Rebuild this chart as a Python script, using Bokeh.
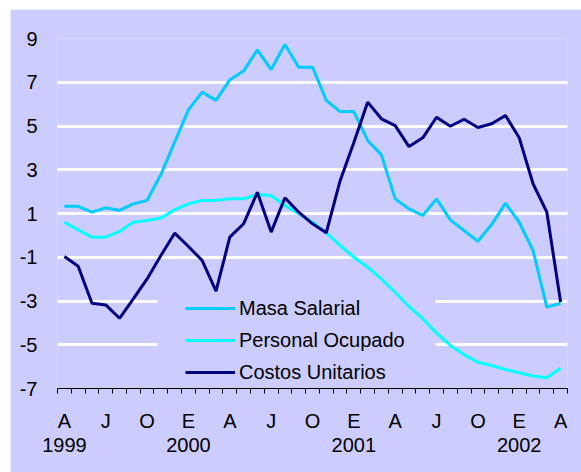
from bokeh.plotting import figure
from bokeh.models import LinearAxis, FixedTicker, Range1d, Legend, LegendItem, BoxAnnotation
from bokeh.embed import file_html
from bokeh.resources import INLINE

# Monthly index: April 1999 (0) ... April 2002 (36)
months = list(range(37))

masa_salarial = [1.33, 1.33, 1.06, 1.26, 1.14, 1.44, 1.6, 2.78, 4.26, 5.74,
                 6.55, 6.17, 7.11, 7.51, 8.48, 7.58, 8.73, 7.69, 7.69, 6.17,
                 5.66, 5.66, 4.34, 3.68, 1.67, 1.21, 0.91, 1.67, 0.71, 0.22,
                 -0.27, 0.5, 1.47, 0.6, -0.69, -3.28, -3.1]
personal_ocupado = [0.6, 0.25, -0.08, -0.08, 0.18, 0.6, 0.68, 0.79, 1.17, 1.44,
                    1.6, 1.6, 1.67, 1.67, 1.87, 1.82, 1.37, 0.99, 0.6, 0.12,
                    -0.46, -1.0, -1.45, -1.99, -2.6, -3.25, -3.81, -4.47, -5.03, -5.45,
                    -5.8, -5.95, -6.13, -6.28, -6.43, -6.51, -6.07]
costos_unitarios = [-0.97, -1.41, -3.1, -3.18, -3.79, -2.9, -1.99, -0.92, 0.1, -0.51,
                    -1.15, -2.55, -0.08, 0.53, 1.97, 0.15, 1.72, 1.06, 0.53, 0.12,
                    2.49, 4.25, 6.09, 5.33, 5.02, 4.06, 4.46, 5.4, 4.99, 5.31,
                    4.93, 5.1, 5.48, 4.46, 2.36, 1.06, -3.05]

quarter_pos = [0, 3, 6, 9, 12, 15, 18, 21, 24, 27, 30, 33, 36]
quarter_labels = ["A", "J", "O", "E", "A", "J", "O", "E", "A", "J", "O", "E", "A"]
year_pos = [0, 9, 21, 33]
year_labels = ["1999", "2000", "2001", "2002"]
y_ticks = [-7, -5, -3, -1, 1, 3, 5, 7, 9]
y_tick_labels = ["-7", "-5", "-3", "-1", "1", "3", "5", "7", "9"]
grid_ticks = [-5, -3, -1, 1, 3, 5, 7, 9]

BG = "#CCCCFF"
FONT = "Liberation Sans"
FS = "20px"

p = figure(width=571, height=463, margin=(9, 0, 0, 10),
           output_backend="svg", toolbar_location=None,
           x_range=Range1d(-0.5, 36.5), y_range=Range1d(-7, 9),
           x_axis_type=None,
           min_border_left=47, min_border_right=14, min_border_top=29, min_border_bottom=84)
p.background_fill_color = BG
p.border_fill_color = BG
p.outline_line_color = None

# y axis
p.yaxis.ticker = FixedTicker(ticks=y_ticks)
p.yaxis.major_label_overrides = {t: l for t, l in zip(y_ticks, y_tick_labels)}
p.yaxis.axis_line_color = None
p.yaxis.major_tick_line_color = None
p.yaxis.minor_tick_line_color = None
p.yaxis.major_label_standoff = 14
p.yaxis.major_label_text_font = FONT
p.yaxis.major_label_text_font_size = FS
p.yaxis.major_label_text_color = "#000000"

p.ygrid.ticker = FixedTicker(ticks=grid_ticks)
p.ygrid.grid_line_color = "#FFFFFF"
p.ygrid.grid_line_width = 3

# x axis: quarter letters at month centres, tick marks at month boundaries
boundaries = [m - 0.5 for m in months] + [months[-1] + 0.5]
ax_m = LinearAxis(ticker=FixedTicker(ticks=quarter_pos, minor_ticks=boundaries),
                  major_label_overrides={q: l for q, l in zip(quarter_pos, quarter_labels)},
                  axis_line_color="#000000", axis_line_width=1,
                  major_tick_line_color=None, major_tick_out=5, major_tick_in=0,
                  minor_tick_line_color="#000000", minor_tick_out=5, minor_tick_in=0,
                  major_label_standoff=16, major_label_text_font=FONT,
                  major_label_text_font_size=FS, major_label_text_color="#000000")
p.add_layout(ax_m, "below")

ax_y = LinearAxis(ticker=FixedTicker(ticks=year_pos),
                  major_label_overrides={q: l for q, l in zip(year_pos, year_labels)},
                  axis_line_color=None, major_tick_line_color=None, minor_tick_line_color=None,
                  major_tick_out=0, major_label_standoff=3, major_label_text_font=FONT,
                  major_label_text_font_size=FS, major_label_text_color="#000000")
p.add_layout(ax_y, "below")

# plain background behind the legend (hides the grid lines there)
legend_bg = BoxAnnotation(left=100, right=378, bottom=0, top=96,
                          left_units="screen", right_units="screen",
                          bottom_units="screen", top_units="screen",
                          fill_color=BG, fill_alpha=1.0, line_color=None, level="underlay")
p.add_layout(legend_bg)

r1 = p.line(months, masa_salarial, line_color="#00CCFF", line_width=3)
r2 = p.line(months, personal_ocupado, line_color="#00FFFF", line_width=3)
r3 = p.line(months, costos_unitarios, line_color="#000080", line_width=3)

legend = Legend(items=[LegendItem(label="Masa Salarial", renderers=[r1]),
                       LegendItem(label="Personal Ocupado", renderers=[r2]),
                       LegendItem(label="Costos Unitarios", renderers=[r3])],
                location=(128, 0), padding=0, margin=0, spacing=0,
                glyph_width=50, glyph_height=32, label_height=32, label_standoff=4,
                label_text_font=FONT, label_text_font_size=FS, label_text_color="#000000",
                background_fill_alpha=0.0, border_line_color=None)
p.add_layout(legend)

with open("out.html", "w") as f:
    f.write(file_html(p, INLINE))
